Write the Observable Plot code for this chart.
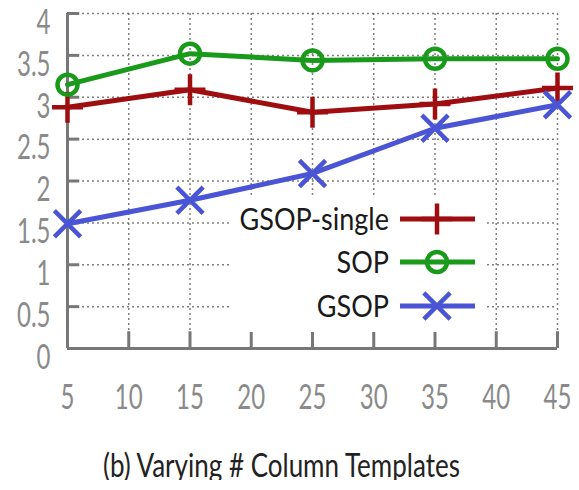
<!DOCTYPE html>
<html>
<head>
<meta charset="utf-8">
<script src="https://cdn.jsdelivr.net/npm/d3@7"></script>
<script src="https://cdn.jsdelivr.net/npm/@observablehq/plot@0.6"></script>
<style>
  body { margin: 0; background: #fff; font-family: Lato, "Open Sans", sans-serif; }
  #wrap { position: relative; width: 579px; }
  #caption { width: 579px; text-align: center; font-size: 26px; color: #222; margin-top: 28px; padding-right: 16px; box-sizing: border-box; transform: scaleY(1.25); transform-origin: center; }
</style>
</head>
<body>
<div id="wrap"></div>
<div id="caption">(b) Varying # Column Templates</div>
<script>
const xs = [5, 15, 25, 35, 45];
const gsopSingle = [2.88, 3.09, 2.82, 2.92, 3.11];
const sop = [3.15, 3.52, 3.44, 3.46, 3.46];
const gsop = [1.49, 1.77, 2.09, 2.63, 2.91];
const xTicks = [5, 10, 15, 20, 25, 30, 35, 40, 45];
const yTicks = [0, 0.5, 1, 1.5, 2, 2.5, 3, 3.5, 4];
const seriesNames = ["GSOP-single", "SOP", "GSOP"];
const colors = ["#9e0e10", "#1a9a1a", "#4a55d6"];
const symbols = ["plus", "circle", "times"];

const seriesValues = [gsopSingle, sop, gsop];
const rows = seriesValues.flatMap((vals, i) => vals.map((v, j) => ({x: xs[j], y: v, s: seriesNames[i]})));

const gridStyle = {stroke: "#555", strokeDasharray: "2,3", strokeOpacity: 0.75, strokeWidth: 1.5};
const fontFam = "Lato, 'Open Sans', sans-serif";

const marks = [
  Plot.gridX(xTicks, gridStyle),
  Plot.gridY(yTicks, gridStyle),
  Plot.ruleY(yTicks, {x1: 5, x2: 6, stroke: "#777", strokeWidth: 3}),
  Plot.ruleX(xTicks, {y1: 0, y2: 0.2, stroke: "#777", strokeWidth: 3}),
  Plot.ruleX([5], {stroke: "#777", strokeWidth: 3}),
  Plot.ruleY([0], {stroke: "#777", strokeWidth: 3}),
  Plot.axisY({ticks: yTicks, tickSize: 0, tickPadding: 17, fontSize: 30, fill: "#8a8a8a", dy: 9, tickFormat: d => String(d), label: null, fontFamily: fontFam}),
  Plot.axisX({ticks: xTicks, tickSize: 0, tickPadding: 35, fontSize: 30, fill: "#8a8a8a", tickFormat: d => String(d), label: null, fontFamily: fontFam}),
];
seriesNames.forEach((name, i) => {
  const data = rows.filter(r => r.s === name);
  marks.push(Plot.line(data, {x: "x", y: "y", stroke: colors[i], strokeWidth: 5}));
  marks.push(Plot.dot(data, {x: "x", y: "y", stroke: colors[i], strokeWidth: 4.5, symbol: symbols[i], r: i === 2 ? 12 : 10, fill: "none"}));
});

const chart = Plot.plot({
  width: 579,
  height: 420,
  marginLeft: 67,
  marginRight: 22,
  marginTop: 13,
  marginBottom: 72,
  x: {domain: [5, 45]},
  y: {domain: [0, 4]},
  style: {background: "#fff", fontFamily: fontFam, overflow: "visible"},
  marks
});
document.getElementById("wrap").appendChild(chart);

// narrow, tall tick labels like the reference
d3.select(chart).selectAll('g[aria-label*="tick label"] text').each(function () {
  const t = this.getAttribute("transform");
  if (t) {
    this.setAttribute("transform", t + " scale(0.8,1.18)");
  } else {
    const x = +this.getAttribute("x") || 0, y = +this.getAttribute("y") || 0;
    this.removeAttribute("x"); this.removeAttribute("y");
    this.setAttribute("transform", `translate(${x},${y}) scale(0.8,1.18)`);
  }
});

// Legend drawn inside the plot area
const svg = d3.select(chart);
const lg = svg.append("g");
lg.append("rect").attr("x", 231).attr("y", 196).attr("width", 255).attr("height", 136).attr("fill", "#fff");
const rowY = [219, 262, 306];
const symFns = {plus: d3.symbolPlus, circle: d3.symbolCircle, times: d3.symbolTimes};
seriesNames.forEach((name, i) => {
  const y = rowY[i];
  lg.append("text").attr("transform", `translate(389,${y}) scale(1,1.15)`).attr("dy", "0.35em").attr("text-anchor", "end")
    .attr("font-size", 27).attr("font-family", fontFam).attr("fill", "#1a1a1a").text(name);
  lg.append("line").attr("x1", 400).attr("x2", 475).attr("y1", y).attr("y2", y)
    .attr("stroke", colors[i]).attr("stroke-width", 5);
  const r = i === 2 ? 12 : 10;
  lg.append("path").attr("transform", `translate(437,${y})`)
    .attr("d", d3.symbol(symFns[symbols[i]], Math.PI * r * r)())
    .attr("fill", "none").attr("stroke", colors[i]).attr("stroke-width", 4.5);
});
</script>
</body>
</html>
